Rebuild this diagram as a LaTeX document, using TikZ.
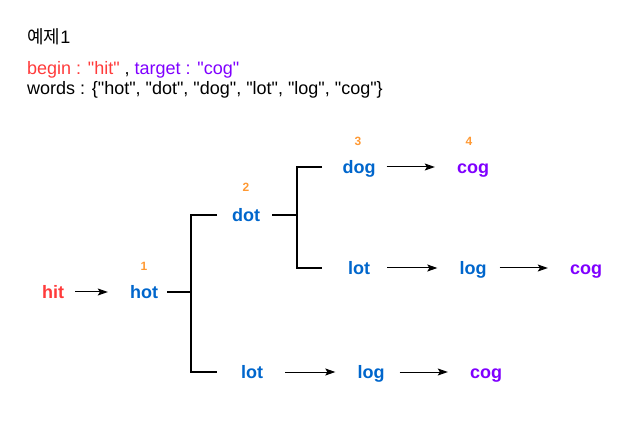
\documentclass[tikz,border=0pt]{standalone}
\usepackage{fontspec}
\setmainfont{Liberation Sans}
\newfontfamily\krfont{Noto Sans CJK KR}
\usepackage{xcolor}
\usetikzlibrary{arrows.meta,positioning,calc}

\definecolor{hitred}{HTML}{FF3B3B}
\definecolor{wordblue}{HTML}{0066CC}
\definecolor{cogpurple}{HTML}{7F00FF}
\definecolor{steporange}{HTML}{FF9933}
\newcommand{\qw}[1]{\textquotedbl#1\textquotedbl}

\begin{document}
\begin{tikzpicture}[
  x=1pt, y=-1pt,
  word/.style={font=\fontsize{18}{18}\selectfont\bfseries, text=wordblue, inner sep=0pt, text height=16pt, text depth=3pt},
  startword/.style={word, text=hitred},
  goalword/.style={word, text=cogpurple},
  num/.style={font=\fontsize{12}{12}\selectfont\bfseries, text=steporange, inner sep=0pt},
  info/.style={anchor=west, inner sep=0pt, font=\fontsize{18}{18}\selectfont},
  arr/.style={-{Stealth[length=10pt, width=7pt, inset=2pt]}, line width=1pt, shorten <=11pt, shorten >=22pt},
  tree/.style={line width=2pt}
]
\useasboundingbox (0,0) rectangle (634,427);

% header
\node[info] (title) at (27,37) {{\krfont 예제}1};
\node[info] (given) at (27,70) {\textcolor{hitred}{begin : \qw{hit}} , \textcolor{cogpurple}{target : \qw{cog}}};
\node[info] (wordlist) at (27,90) {words : \{\qw{hot}, \qw{dot}, \qw{dog}, \qw{lot}, \qw{log}, \qw{cog}\}};

% words
\node[startword] (hit) at (53,292) {hit};
\node[word] (hot) at (144,292) {hot};
\node[word] (dot) at (246,215) {dot};
\node[word] (dog) at (359,167) {dog};
\node[goalword] (cogA) at (473,167) {cog};
\node[word] (lotA) at (359,268) {lot};
\node[word] (logA) at (473,268) {log};
\node[goalword] (cogB) at (586,268) {cog};
\node[word] (lotB) at (252,372) {lot};
\node[word] (logB) at (371,372) {log};
\node[goalword] (cogC) at (486,372) {cog};

% step numbers
\node[num] (n1) at (144,266) {1};
\node[num] (n2) at (246,187) {2};
\node[num] (n3) at (358,141) {3};
\node[num] (n4) at (469,141) {4};

% tree
\coordinate (j1) at (191,292);
\coordinate (j2) at (297,215);
\draw[tree] ([xshift=9pt]hot.east) -- (hot -| j1);
\draw[tree] ($(j1 |- dot)+(26,0)$) -| (j1 |- lotB) -- ++(26,0);
\draw[tree] ([xshift=12pt]dot.east) -- (dot -| j2);
\draw[tree] ($(j2 |- dog)+(25,0)$) -| (j2 |- lotA) -- ++(25,0);

% arrows
\draw[arr] (hit) -- (hot);
\draw[arr] (dog) -- (cogA);
\draw[arr, shorten <=17pt] (lotA) -- (logA);
\draw[arr, shorten <=13pt] (logA) -- (cogB);
\draw[arr, shorten <=22pt] (lotB) -- (logB);
\draw[arr, shorten <=15pt] (logB) -- (cogC);

\end{tikzpicture}
\end{document}
